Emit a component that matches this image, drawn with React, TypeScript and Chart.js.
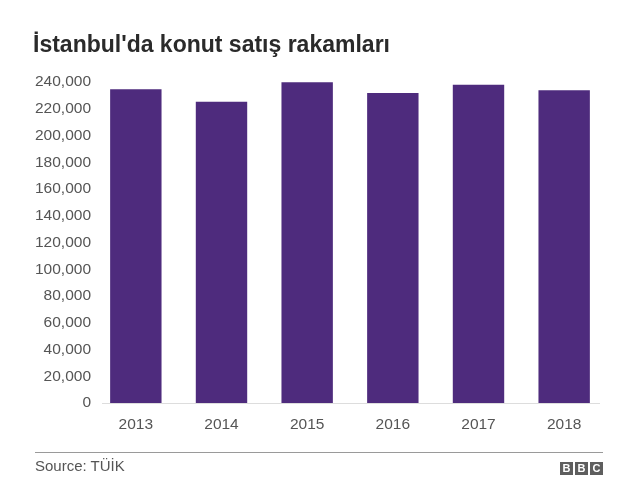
import React, { useEffect, useRef } from "react";
import { Chart, registerables } from "chart.js";

Chart.register(...registerables);

const years = ["2013", "2014", "2015", "2016", "2017", "2018"];
const sales = [234500, 225300, 239800, 231800, 238000, 233800];
const yMin = 0;
const yMax = 240000;
const yStep = 20000;

const titleText = "İstanbul'da konut satış rakamları";
const sourceText = "Source: TÜİK";
const barColor = "#4e2b7d";
const FONT = "'Liberation Sans', Arial, Helvetica, sans-serif";

const baselinePlugin = {
  id: "baseline",
  beforeDatasetsDraw(chart: any) {
    const { ctx, chartArea } = chart;
    const y = chart.scales.y.getPixelForValue(0);
    ctx.save();
    ctx.strokeStyle = "#dddddd";
    ctx.lineWidth = 1;
    ctx.beginPath();
    ctx.moveTo(chartArea.left + 9, Math.round(y) + 0.5);
    ctx.lineTo(chartArea.right - 7, Math.round(y) + 0.5);
    ctx.stroke();
    ctx.restore();
  },
};

export default function App() {
  const canvasRef = useRef<HTMLCanvasElement | null>(null);

  useEffect(() => {
    document.body.style.margin = "0";
    const canvas = canvasRef.current;
    if (!canvas) return;
    const chart = new Chart(canvas, {
      type: "bar",
      data: {
        labels: years,
        datasets: [
          {
            data: sales,
            backgroundColor: barColor,
            borderWidth: 0,
            barPercentage: 0.6,
            categoryPercentage: 1,
          },
        ],
      },
      options: {
        animation: false,
        responsive: false,
        maintainAspectRatio: false,
        layout: { padding: { top: 82, right: 33, bottom: 0, left: 0 } },
        plugins: {
          legend: { display: false },
          tooltip: { enabled: false },
          title: { display: false },
        },
        scales: {
          x: {
            grid: { display: false, drawTicks: false },
            border: { display: false },
            ticks: {
              color: "#555555",
              font: { family: FONT, size: 15.5 },
              padding: 12,
              maxRotation: 0,
            },
            afterFit: (scale: any) => {
              scale.height = 88;
            },
          },
          y: {
            min: yMin,
            max: yMax,
            grid: { display: false, drawTicks: false },
            border: { display: false },
            ticks: {
              stepSize: yStep,
              color: "#555555",
              font: { family: FONT, size: 15.5 },
              padding: 2,
              callback: (v: any) => Number(v).toLocaleString("en-US"),
            },
            afterFit: (scale: any) => {
              scale.width = 93;
            },
          },
        },
      },
      plugins: [baselinePlugin],
    });
    return () => chart.destroy();
  }, []);

  const box: React.CSSProperties = {
    display: "inline-block",
    width: 13,
    height: 13,
    background: "#5e5e5e",
    color: "#fff",
    fontFamily: FONT,
    fontWeight: "bold",
    fontSize: 11,
    lineHeight: "13px",
    textAlign: "center",
    marginLeft: 2,
    verticalAlign: "top",
  };

  return (
    <div style={{ position: "relative", width: 640, height: 491, background: "#fff", overflow: "hidden" }}>
      <canvas ref={canvasRef} width={640} height={491} style={{ position: "absolute", left: 0, top: 0 }} />
      <div
        style={{
          position: "absolute",
          left: 33,
          top: 30,
          fontFamily: FONT,
          fontWeight: "bold",
          fontSize: 23,
          lineHeight: "28px",
          color: "#2a2a2a",
          whiteSpace: "nowrap",
        }}
      >
        {titleText}
      </div>
      <div style={{ position: "absolute", left: 35, top: 452, width: 568, height: 1, background: "#9a9a9a" }} />
      <div
        style={{
          position: "absolute",
          left: 35,
          top: 457,
          fontFamily: FONT,
          fontSize: 15,
          lineHeight: "18px",
          color: "#555555",
          whiteSpace: "nowrap",
        }}
      >
        {sourceText}
      </div>
      <div style={{ position: "absolute", left: 558, top: 462, whiteSpace: "nowrap", lineHeight: "13px", height: 13 }}>
        <span style={box}>B</span>
        <span style={box}>B</span>
        <span style={box}>C</span>
      </div>
    </div>
  );
}
